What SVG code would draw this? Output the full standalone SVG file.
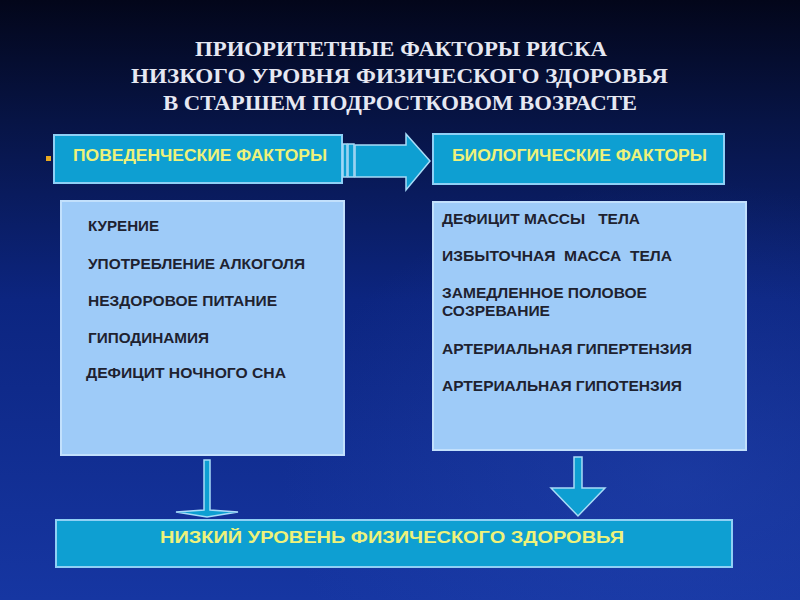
<svg xmlns="http://www.w3.org/2000/svg" width="800" height="600" viewBox="0 0 800 600">
  <defs>
    <linearGradient id="bg" x1="0" y1="0" x2="0" y2="1">
      <stop offset="0" stop-color="#03061a"/>
      <stop offset="0.2" stop-color="#071445"/>
      <stop offset="0.5" stop-color="#0c2580"/>
      <stop offset="1" stop-color="#1636a2"/>
    </linearGradient>
    <radialGradient id="glow" cx="0.85" cy="0.8" r="0.5">
      <stop offset="0" stop-color="#2a4cb8" stop-opacity="0.35"/>
      <stop offset="1" stop-color="#2a4cb8" stop-opacity="0"/>
    </radialGradient>
    <style>
      .title { font-family: "Liberation Serif", "Times New Roman", serif; font-weight: bold; font-size: 21px; fill: #e6e8f2; }
      .hdr { fill: #0e9fd2; stroke: #8fd0f5; stroke-width: 2; }
      .hdrtxt { font-family: "Liberation Sans", Arial, sans-serif; font-weight: bold; font-size: 16px; fill: #eef27a; }
      .box { fill: #9ecbf8; stroke: #c2e0fc; stroke-width: 2; }
      .item { font-family: "Liberation Sans", Arial, sans-serif; font-weight: bold; font-size: 14px; fill: #1e2230; white-space: pre; }
      .arr { fill: #0e9fd2; stroke: #a8dcf8; stroke-width: 1.5; stroke-linejoin: miter; }
    </style>
  </defs>

  <rect x="0" y="0" width="800" height="600" fill="url(#bg)"/>
  <rect x="0" y="0" width="800" height="600" fill="url(#glow)"/>

  <g id="title">
    <text class="title" x="195" y="56" textLength="412" lengthAdjust="spacingAndGlyphs">ПРИОРИТЕТНЫЕ ФАКТОРЫ РИСКА</text>
    <text class="title" x="131" y="83" textLength="537" lengthAdjust="spacingAndGlyphs">НИЗКОГО УРОВНЯ ФИЗИЧЕСКОГО ЗДОРОВЬЯ</text>
    <text class="title" x="163" y="110" textLength="474" lengthAdjust="spacingAndGlyphs">В СТАРШЕМ ПОДРОСТКОВОМ ВОЗРАСТЕ</text>
  </g>

  <g id="behavioral-header">
    <rect x="46" y="156" width="5" height="5" fill="#e8a820"/>
    <rect class="hdr" x="54" y="135" width="288" height="48"/>
    <text class="hdrtxt" x="73" y="161" textLength="254" lengthAdjust="spacingAndGlyphs">ПОВЕДЕНЧЕСКИЕ ФАКТОРЫ</text>
  </g>

  <g id="biological-header">
    <rect class="hdr" x="433" y="134" width="291" height="50"/>
    <text class="hdrtxt" x="452" y="161" textLength="255" lengthAdjust="spacingAndGlyphs">БИОЛОГИЧЕСКИЕ ФАКТОРЫ</text>
  </g>

  <g id="behavioral-list">
    <rect class="box" x="61" y="201" width="283" height="254"/>
    <text class="item" x="88" y="231" textLength="71" lengthAdjust="spacingAndGlyphs">КУРЕНИЕ</text>
    <text class="item" x="88" y="269" textLength="217" lengthAdjust="spacingAndGlyphs">УПОТРЕБЛЕНИЕ АЛКОГОЛЯ</text>
    <text class="item" x="88" y="306" textLength="189" lengthAdjust="spacingAndGlyphs">НЕЗДОРОВОЕ ПИТАНИЕ</text>
    <text class="item" x="88" y="343" textLength="121" lengthAdjust="spacingAndGlyphs">ГИПОДИНАМИЯ</text>
    <text class="item" x="86" y="378" textLength="200" lengthAdjust="spacingAndGlyphs">ДЕФИЦИТ НОЧНОГО СНА</text>
  </g>

  <g id="biological-list">
    <rect class="box" x="433" y="202" width="313" height="248"/>
    <text class="item" x="442" y="224" textLength="198" lengthAdjust="spacingAndGlyphs">ДЕФИЦИТ МАССЫ   ТЕЛА</text>
    <text class="item" x="442" y="261" textLength="230" lengthAdjust="spacingAndGlyphs">ИЗБЫТОЧНАЯ  МАССА  ТЕЛА</text>
    <text class="item" x="442" y="298" textLength="205" lengthAdjust="spacingAndGlyphs">ЗАМЕДЛЕННОЕ ПОЛОВОЕ</text>
    <text class="item" x="442" y="316" textLength="108" lengthAdjust="spacingAndGlyphs">СОЗРЕВАНИЕ</text>
    <text class="item" x="442" y="354" textLength="250" lengthAdjust="spacingAndGlyphs">АРТЕРИАЛЬНАЯ ГИПЕРТЕНЗИЯ</text>
    <text class="item" x="442" y="391" textLength="240" lengthAdjust="spacingAndGlyphs">АРТЕРИАЛЬНАЯ ГИПОТЕНЗИЯ</text>
  </g>

  <g id="result">
    <rect class="hdr" x="56" y="520" width="676" height="47"/>
    <text class="hdrtxt" x="160" y="543" font-size="18" textLength="464" lengthAdjust="spacingAndGlyphs">НИЗКИЙ УРОВЕНЬ ФИЗИЧЕСКОГО ЗДОРОВЬЯ</text>
  </g>

  <g id="connectors">
    <rect class="arr" x="343" y="144" width="4" height="33"/>
    <rect class="arr" x="348" y="144" width="6" height="33"/>
    <path class="arr" d="M355,145 L406,145 L406,134 L430,161 L406,190 L406,177 L355,177 Z"/>
    <path class="arr" d="M204,460 L210,460 L210,510 L238,512 L207,517 L176,512 L204,510 Z"/>
    <path class="arr" d="M574,457 L582,457 L582,488 L605,488 L578,516 L551,488 L574,488 Z"/>
  </g>
</svg>
